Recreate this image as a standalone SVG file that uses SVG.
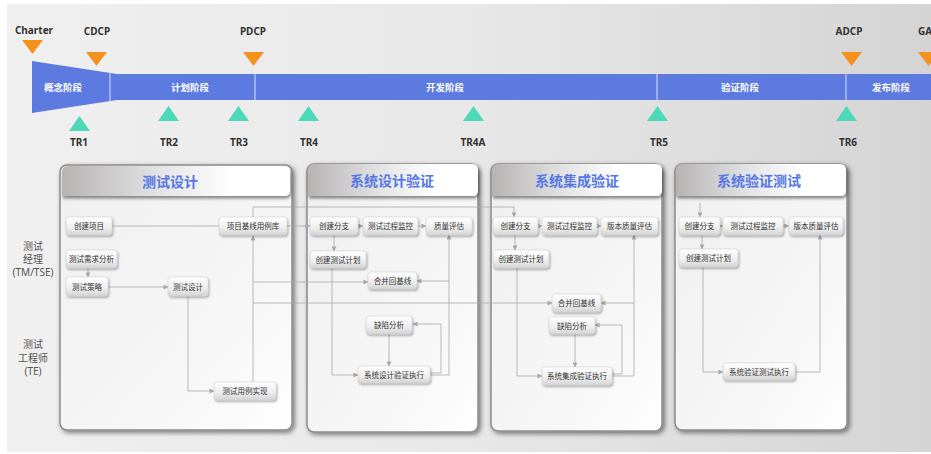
<svg xmlns="http://www.w3.org/2000/svg" width="931" height="454" viewBox="0 0 931 454">
<style>
.lbl{font-family:"Noto Sans","Open Sans","Noto Sans CJK SC",sans-serif;font-weight:bold;font-size:10px;fill:#333;text-anchor:middle}
.ph{font-family:"Noto Sans CJK SC",sans-serif;font-size:9.5px;fill:#fff;text-anchor:middle;font-weight:bold}
.role{font-family:"Noto Sans","Noto Sans CJK SC",sans-serif;font-size:10px;fill:#555;text-anchor:middle}
.title{font-family:"Noto Sans CJK SC",sans-serif;font-size:14px;font-weight:bold;fill:#5577e6;text-anchor:middle}
.nt{font-family:"Noto Sans CJK SC",sans-serif;font-size:7.5px;fill:#333;text-anchor:middle}
.nb{fill:url(#nodeg);stroke:#c8c8c8;stroke-width:0.5;filter:url(#nsh)}
.panel{fill:url(#panelg);stroke:#8a8a8a;stroke-width:1.5;filter:url(#psh)}
.tbar{fill:url(#titleg);filter:url(#tsh)}
.c{fill:none;stroke:#a8a8a8;stroke-width:0.8}
.ca{fill:none;stroke:#a8a8a8;stroke-width:0.8;marker-end:url(#ah)}
.dec{fill:#f5921e}
.tr{fill:#4cd9b7}
</style>
<defs>
<linearGradient id="bg" x1="0" y1="0" x2="1" y2="0">
<stop offset="0" stop-color="#f0f0f0"/><stop offset="0.5" stop-color="#e8e8e8"/><stop offset="1" stop-color="#d4d4d4"/>
</linearGradient>
<linearGradient id="nodeg" x1="0" y1="0" x2="0" y2="1">
<stop offset="0" stop-color="#ffffff"/><stop offset="0.6" stop-color="#eeeeee"/><stop offset="1" stop-color="#d4d4d4"/>
</linearGradient>
<linearGradient id="panelg" x1="0" y1="0" x2="1" y2="1">
<stop offset="0" stop-color="#efefef"/><stop offset="0.7" stop-color="#f7f7f7"/><stop offset="1" stop-color="#ffffff"/>
</linearGradient>
<linearGradient id="titleg" x1="0" y1="0" x2="1" y2="0">
<stop offset="0" stop-color="#b6b3b3"/><stop offset="0.45" stop-color="#e6e6e6"/><stop offset="0.75" stop-color="#ffffff"/><stop offset="1" stop-color="#ffffff"/>
</linearGradient>
<filter id="nsh" x="-20%" y="-30%" width="140%" height="170%"><feDropShadow dx="1" dy="1.5" stdDeviation="1" flood-color="#000" flood-opacity="0.35"/></filter>
<filter id="psh" x="-10%" y="-10%" width="120%" height="120%"><feDropShadow dx="2" dy="2" stdDeviation="2.5" flood-color="#000" flood-opacity="0.5"/></filter>
<filter id="tsh" x="-10%" y="-20%" width="120%" height="160%"><feDropShadow dx="1" dy="2.5" stdDeviation="1.5" flood-color="#000" flood-opacity="0.45"/></filter>
<marker id="ah" viewBox="0 0 6 6" refX="5.5" refY="3" markerWidth="5" markerHeight="5" orient="auto" markerUnits="userSpaceOnUse"><path d="M0,0 L6,3 L0,6 Z" fill="#a8a8a8"/></marker>
</defs>
<rect x="0" y="0" width="931" height="454" fill="#fff"/>
<rect x="7" y="4" width="924" height="448" fill="url(#bg)"/>

<g id="timeline">
<path d="M32,61 L117,74 L931,74 L931,100 L117,100 L32,113 Z" fill="#5d7ae0"/>
<g stroke="#c7d1f4" stroke-width="1.2">
<line x1="110" y1="73" x2="110" y2="101"/><line x1="255" y1="74" x2="255" y2="100"/><line x1="657" y1="74" x2="657" y2="100"/><line x1="846" y1="74" x2="846" y2="100"/>
</g>
<text class="ph" x="63" y="91">概念阶段</text>
<text class="ph" x="190" y="91">计划阶段</text>
<text class="ph" x="445" y="91">开发阶段</text>
<text class="ph" x="740" y="91">验证阶段</text>
<text class="ph" x="891" y="91">发布阶段</text>
</g>

<g id="decision-points">
<path class="dec" d="M22,40 L43,40 L32.5,54 Z"/><text class="lbl" x="34" y="34">Charter</text>
<path class="dec" d="M86,52 L107,52 L96.5,66 Z"/><text class="lbl" x="97" y="35">CDCP</text>
<path class="dec" d="M243,52 L264,52 L253.5,66 Z"/><text class="lbl" x="253" y="35">PDCP</text>
<path class="dec" d="M841,52 L862,52 L851.5,66 Z"/><text class="lbl" x="849" y="35">ADCP</text>
<path class="dec" d="M918,52 L939,52 L928.5,66 Z"/><text class="lbl" x="918" y="35" style="text-anchor:start">GA</text>
</g>

<g id="tech-reviews">
<path class="tr" d="M69,131 L90,131 L79.5,116 Z"/><text class="lbl" x="79" y="146">TR1</text>
<path class="tr" d="M158,121 L179,121 L168.5,106 Z"/><text class="lbl" x="169" y="146">TR2</text>
<path class="tr" d="M228,121 L249,121 L238.5,106 Z"/><text class="lbl" x="239" y="146">TR3</text>
<path class="tr" d="M298,121 L319,121 L308.5,106 Z"/><text class="lbl" x="309" y="146">TR4</text>
<path class="tr" d="M463,121 L484,121 L473.5,106 Z"/><text class="lbl" x="473" y="146">TR4A</text>
<path class="tr" d="M647,121 L668,121 L657.5,106 Z"/><text class="lbl" x="659" y="146">TR5</text>
<path class="tr" d="M836,121 L857,121 L846.5,106 Z"/><text class="lbl" x="848" y="146">TR6</text>
</g>

<g id="roles">
<text class="role" x="33" y="250">测试</text>
<text class="role" x="33" y="263">经理</text>
<text class="role" x="33" y="276">(TM/TSE)</text>
<text class="role" x="33" y="348">测试</text>
<text class="role" x="33" y="362">工程师</text>
<text class="role" x="33" y="375">(TE)</text>
</g>

<g id="panels">
<g id="panel-test-design"><rect class="panel" x="60" y="165" width="232" height="265" rx="7"/><path class="tbar" d="M62,196 L62,172 Q62,166 68,166 L284,166 Q290,166 290,172 L290,190 Q290,196 284,196 Z"/><text class="title" x="170" y="187">测试设计</text></g>
<g id="panel-sdv"><rect class="panel" x="307" y="164" width="171" height="268" rx="7"/><path class="tbar" d="M308,196 L308,170 Q308,164 314,164 L472,164 Q478,164 478,170 L478,190 Q478,196 472,196 Z"/><text class="title" x="392" y="186">系统设计验证</text></g>
<g id="panel-sit"><rect class="panel" x="491" y="164" width="171" height="267" rx="7"/><path class="tbar" d="M492,196 L492,170 Q492,164 498,164 L656,164 Q662,164 662,170 L662,190 Q662,196 656,196 Z"/><text class="title" x="577" y="186">系统集成验证</text></g>
<g id="panel-svt"><rect class="panel" x="675" y="164" width="172" height="266" rx="7"/><path class="tbar" d="M676,196 L676,170 Q676,164 682,164 L840,164 Q846,164 846,170 L846,190 Q846,196 840,196 Z"/><text class="title" x="759" y="186">系统验证测试</text></g>
</g>

<g id="connectors">
<path class="c" d="M112,226 L219,226"/>
<path class="ca" d="M287,226 L310,226"/>
<path class="ca" d="M88,268 L88,277"/>
<path class="ca" d="M108,287 L168,287"/>
<path class="ca" d="M188,296 L188,391 L214,391"/>
<path class="ca" d="M253,382 L253,236"/>
<path class="c" d="M253,217 L253,207 L514,207"/>
<path class="ca" d="M514,207 L514,217"/>
<path class="ca" d="M253,282 L368,282"/>
<path class="ca" d="M253,303 L552,303"/>
<path class="ca" d="M358,226 L363,226"/>
<path class="ca" d="M418,226 L426,226"/>
<path class="ca" d="M334,235 L334,251"/>
<path class="ca" d="M332,268 L332,375 L358,375"/>
<path class="ca" d="M430,375 L449,375 L449,235"/>
<path class="ca" d="M449,281 L417,281"/>
<path class="ca" d="M430,373 L441,373 L441,324 L413,324"/>
<path class="ca" d="M389,334 L389,366"/>
<path class="ca" d="M538,226 L542,226"/>
<path class="ca" d="M597,226 L601,226"/>
<path class="ca" d="M515,235 L515,250"/>
<path class="ca" d="M517,268 L517,376 L542,376"/>
<path class="ca" d="M612,376 L634,376 L634,235"/>
<path class="ca" d="M634,303 L601,303"/>
<path class="ca" d="M612,374 L622,374 L622,325 L595,325"/>
<path class="ca" d="M575,334 L575,367"/>
<path class="ca" d="M700,203 L700,217"/>
<path class="ca" d="M720,226 L723,226"/>
<path class="ca" d="M783,226 L789,226"/>
<path class="ca" d="M702,235 L702,249"/>
<path class="ca" d="M703,267 L703,372 L723,372"/>
<path class="ca" d="M795,372 L820,372 L820,235"/>
</g>

<g id="nodes">
<g id="n-create-project"><rect class="nb" x="66" y="217" width="46" height="18" rx="3"/><text class="nt" x="89" y="229">创建项目</text></g>
<g id="n-req-analysis"><rect class="nb" x="66" y="250" width="51" height="18" rx="3"/><text class="nt" x="91.5" y="262">测试需求分析</text></g>
<g id="n-strategy"><rect class="nb" x="66" y="277" width="42" height="19" rx="3"/><text class="nt" x="87" y="289.5">测试策略</text></g>
<g id="n-design"><rect class="nb" x="168" y="277" width="40" height="19" rx="3"/><text class="nt" x="188" y="289.5">测试设计</text></g>
<g id="n-baseline-lib"><rect class="nb" x="219" y="217" width="68" height="18" rx="3"/><text class="nt" x="253" y="229">项目基线用例库</text></g>
<g id="n-case-impl"><rect class="nb" x="214" y="382" width="62" height="18" rx="3"/><text class="nt" x="245" y="394">测试用例实现</text></g>

<g id="n2-branch"><rect class="nb" x="310" y="217" width="48" height="18" rx="3"/><text class="nt" x="334" y="229">创建分支</text></g>
<g id="n2-monitor"><rect class="nb" x="363" y="217" width="55" height="18" rx="3"/><text class="nt" x="390.5" y="229">测试过程监控</text></g>
<g id="n2-quality"><rect class="nb" x="426" y="217" width="46" height="18" rx="3"/><text class="nt" x="449" y="229">质量评估</text></g>
<g id="n2-plan"><rect class="nb" x="310" y="251" width="56" height="17" rx="3"/><text class="nt" x="338" y="262.5">创建测试计划</text></g>
<g id="n2-merge"><rect class="nb" x="368" y="272" width="49" height="17" rx="3"/><text class="nt" x="392.5" y="283.5">合并回基线</text></g>
<g id="n2-defect"><rect class="nb" x="366" y="316" width="46" height="18" rx="3"/><text class="nt" x="389" y="328">缺陷分析</text></g>
<g id="n2-exec"><rect class="nb" x="358" y="366" width="72" height="17" rx="3"/><text class="nt" x="394" y="377.5">系统设计验证执行</text></g>

<g id="n3-branch"><rect class="nb" x="493" y="217" width="45" height="18" rx="3"/><text class="nt" x="515.5" y="229">创建分支</text></g>
<g id="n3-monitor"><rect class="nb" x="542" y="217" width="55" height="18" rx="3"/><text class="nt" x="569.5" y="229">测试过程监控</text></g>
<g id="n3-quality"><rect class="nb" x="601" y="217" width="57" height="18" rx="3"/><text class="nt" x="629.5" y="229">版本质量评估</text></g>
<g id="n3-plan"><rect class="nb" x="493" y="250" width="56" height="18" rx="3"/><text class="nt" x="521" y="262">创建测试计划</text></g>
<g id="n3-merge"><rect class="nb" x="552" y="294" width="49" height="18" rx="3"/><text class="nt" x="576.5" y="306">合并回基线</text></g>
<g id="n3-defect"><rect class="nb" x="549" y="317" width="46" height="17" rx="3"/><text class="nt" x="572" y="328.5">缺陷分析</text></g>
<g id="n3-exec"><rect class="nb" x="542" y="367" width="70" height="18" rx="3"/><text class="nt" x="577" y="379">系统集成验证执行</text></g>

<g id="n4-branch"><rect class="nb" x="679" y="217" width="41" height="18" rx="3"/><text class="nt" x="699.5" y="229">创建分支</text></g>
<g id="n4-monitor"><rect class="nb" x="723" y="217" width="60" height="18" rx="3"/><text class="nt" x="753" y="229">测试过程监控</text></g>
<g id="n4-quality"><rect class="nb" x="789" y="217" width="54" height="18" rx="3"/><text class="nt" x="816" y="229">版本质量评估</text></g>
<g id="n4-plan"><rect class="nb" x="679" y="249" width="59" height="18" rx="3"/><text class="nt" x="708.5" y="261">创建测试计划</text></g>
<g id="n4-exec"><rect class="nb" x="723" y="363" width="72" height="17" rx="3"/><text class="nt" x="759" y="374.5">系统验证测试执行</text></g>
</g>
</svg>
